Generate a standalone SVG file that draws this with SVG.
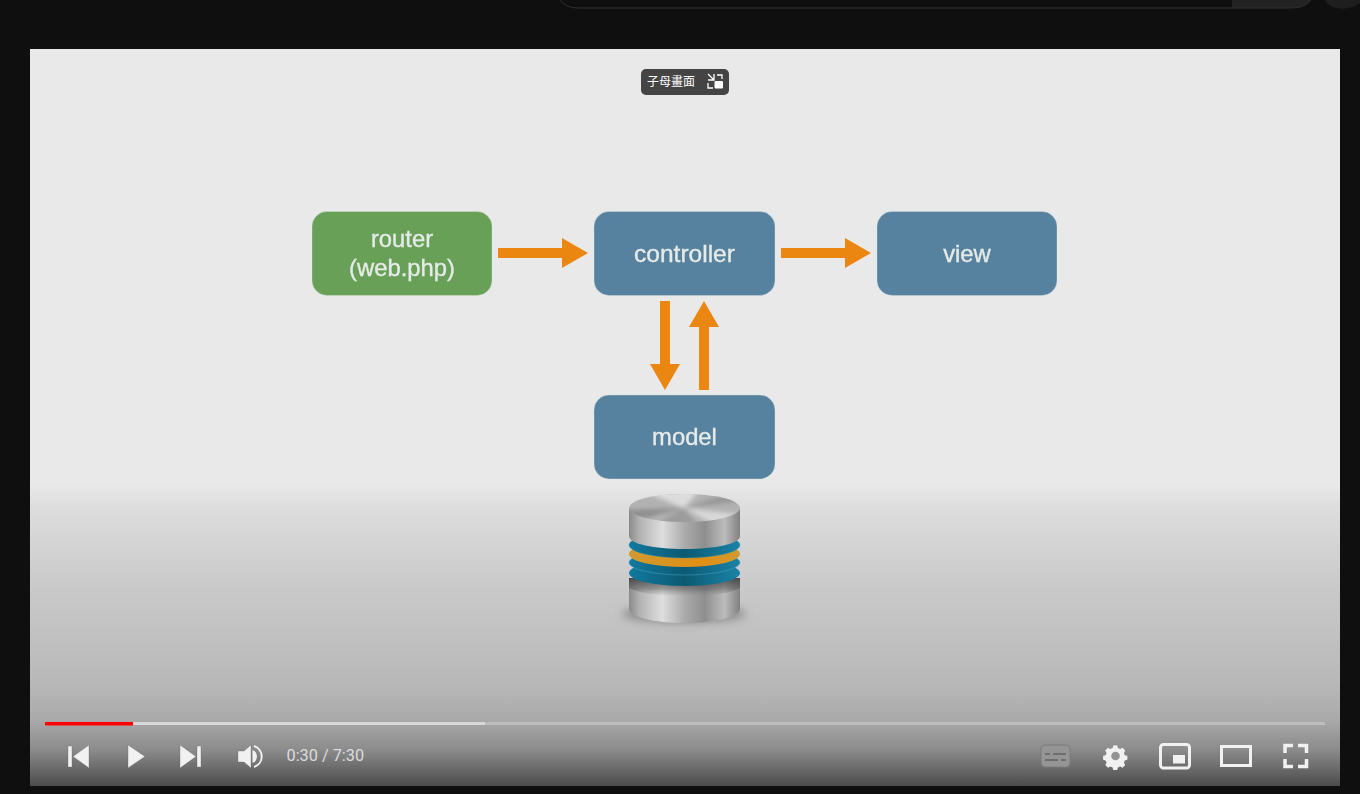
<svg xmlns="http://www.w3.org/2000/svg" width="1360" height="794" viewBox="0 0 1360 794">
<style>
.node{stroke:#dfe6e4;stroke-opacity:.35;stroke-width:1}
.blue{fill:#57829f}
.green{fill:#68a057}
.lbl{font-family:"Liberation Sans",Arial,sans-serif;font-size:23.800px;fill:#e6ebe8;stroke:#e6ebe8;stroke-width:.35;text-anchor:middle}
.conn{stroke:#eb8611;stroke-width:10;fill:none}
.ico{fill:#f1f1f1;stroke:#6a6a6a;stroke-opacity:.35;stroke-width:1}
.ln{fill:none;stroke:#f1f1f1;stroke-width:3}
</style>
<defs>
<marker id="ah" markerUnits="userSpaceOnUse" markerWidth="26" markerHeight="30" refX="0" refY="15" orient="auto"><path d="M0 0L26 15L0 30Z" fill="#eb8611"/></marker>
<linearGradient id="bg" x1="0" y1="0" x2="0" y2="1"><stop offset="0" stop-color="#e9e9e9"/><stop offset=".59" stop-color="#e9e9e9"/><stop offset=".62" stop-color="#dedede"/><stop offset=".72" stop-color="#cbcbcb"/><stop offset=".86" stop-color="#b8b8b8"/><stop offset=".91" stop-color="#aaaaaa"/><stop offset=".95" stop-color="#8c8c8c"/><stop offset="1" stop-color="#4c4c4c"/></linearGradient>
<linearGradient id="metal" x1="0" y1="0" x2="1" y2="0"><stop offset="0" stop-color="#8a8a8a"/><stop offset=".1" stop-color="#b4b4b4"/><stop offset=".3" stop-color="#dedede"/><stop offset=".5" stop-color="#ababab"/><stop offset=".68" stop-color="#8e8e8e"/><stop offset=".86" stop-color="#bcbcbc"/><stop offset="1" stop-color="#808080"/></linearGradient>
<linearGradient id="teal" x1="0" y1="0" x2="1" y2="0"><stop offset="0" stop-color="#1279a0"/><stop offset=".5" stop-color="#0c5a72"/><stop offset="1" stop-color="#1a83a6"/></linearGradient>
<linearGradient id="amber" x1="0" y1="0" x2="1" y2="0"><stop offset="0" stop-color="#d09a30"/><stop offset=".65" stop-color="#e08e14"/><stop offset="1" stop-color="#d09a30"/></linearGradient>
<linearGradient id="lowshade" x1="0" y1="0" x2="0" y2="1"><stop offset="0" stop-color="#3c3c3c" stop-opacity=".85"/><stop offset=".6" stop-color="#555" stop-opacity=".5"/><stop offset="1" stop-color="#777" stop-opacity="0"/></linearGradient>
<filter id="blur" x="-30%" y="-100%" width="160%" height="300%"><feGaussianBlur stdDeviation="4"/></filter>
<filter id="soft" x="-10%" y="-10%" width="120%" height="120%"><feGaussianBlur stdDeviation="2"/></filter>
<filter id="tiny" x="-5%" y="-5%" width="110%" height="110%"><feGaussianBlur stdDeviation=".5"/></filter>
<clipPath id="capclip"><ellipse cx="684.500" cy="508" rx="55.500" ry="14"/></clipPath>
</defs>
<rect width="1360" height="794" fill="#0f0f0f"/>
<path d="M1232 0V8H1290C1300 8 1306 6 1311 0Z" fill="#222"/>
<path d="M560 0C565 6 570 8 580 8H1290C1300 8 1306 6 1311 0" fill="none" stroke="#303030"/>
<path d="M1325 0C1330 11 1350 11 1360 3V0Z" fill="#1e1e1e"/>
<rect x="30" y="49" width="1310" height="737" fill="url(#bg)"/>
<g id="pip-badge">
<rect x="641" y="69" width="88" height="26" rx="5" fill="#444"/>
<text x="671" y="86" font-family="'Noto Sans CJK TC','Noto Sans CJK SC',sans-serif" font-size="12" fill="#fff" text-anchor="middle">子母畫面</text>
<path d="M708 74L714 80M708 80H714V74M717 75H722V79M708 83V88H713" fill="none" stroke="#fff" stroke-width="1.300"/>
<rect x="714.500" y="81" width="8.500" height="7.500" rx="1" fill="#fff"/>
</g>
<g id="connectors">
<path class="conn" marker-end="url(#ah)" d="M498 253H562"/>
<path class="conn" marker-end="url(#ah)" d="M781 253H845"/>
<path class="conn" marker-end="url(#ah)" d="M665 301V364"/>
<path class="conn" marker-end="url(#ah)" d="M704 390V327"/>
</g>
<g id="router"><rect class="node green" x="312" y="211.500" width="180" height="84" rx="15"/><text class="lbl" x="402" y="247" filter="url(#tiny)">router</text><text class="lbl" x="402" y="275.500" filter="url(#tiny)">(web.php)</text></g>
<g id="controller"><rect class="node blue" x="594" y="211.500" width="181" height="84" rx="15"/><text class="lbl" x="684.500" y="262" filter="url(#tiny)" style="font-size:24.500px">controller</text></g>
<g id="view"><rect class="node blue" x="877" y="211.500" width="180" height="84" rx="15"/><text class="lbl" x="967" y="262" filter="url(#tiny)">view</text></g>
<g id="model"><rect class="node blue" x="594" y="395" width="181" height="84" rx="15"/><text class="lbl" x="684.500" y="445" filter="url(#tiny)">model</text></g>
<g id="database">
<ellipse cx="684" cy="614" rx="62" ry="9" fill="#555" opacity=".5" filter="url(#blur)"/>
<path d="M629 578V609C629 617 654 623 684.500 623S740 617 740 609V578Z" fill="url(#metal)"/>
<path d="M629 578V588C640 594 660 596 684.500 596S730 594 740 588V578Z" fill="url(#lowshade)"/>
<ellipse cx="684.500" cy="573" rx="55.500" ry="13" fill="url(#teal)"/>
<ellipse cx="684.500" cy="562.500" rx="55.500" ry="12.500" fill="url(#teal)" stroke="#4aa7c0" stroke-opacity=".5"/>
<ellipse cx="684.500" cy="554" rx="55.500" ry="13" fill="url(#amber)"/>
<ellipse cx="684.500" cy="545" rx="55.500" ry="13" fill="url(#teal)" stroke="#2f93ad" stroke-opacity=".4"/>
<path d="M629 508V536C629 544 654 549 684.500 549S740 544 740 536V508Z" fill="url(#metal)"/>
<ellipse cx="684.500" cy="508" rx="55.500" ry="14" fill="#b2b2b2"/>
<g clip-path="url(#capclip)"><g filter="url(#soft)">
<path d="M684 508L640 490H700Z" fill="#dcdcdc"/>
<path d="M684 508L622 510L630 522Z" fill="#8f8f8f"/>
<path d="M684 508L720 528H750L745 515Z" fill="#d8d8d8"/>
<path d="M684 508L740 490L750 500Z" fill="#969696"/>
<path d="M684 508L650 528H700Z" fill="#9c9c9c"/>
</g></g>
</g>
<g id="player-controls">
<rect x="45" y="722" width="1280" height="3" fill="#bdbdbd"/>
<rect x="45" y="722" width="440" height="3" fill="#d8d8d8"/>
<rect x="45" y="722" width="88" height="3.500" fill="#f00"/>
<path class="ico" d="M68 746H72V767H68ZM89 745V768L73 756.500Z"/>
<path class="ico" d="M128 745L145 756.500L128 768Z"/>
<path class="ico" d="M180 745L196 756.500L180 768ZM197 746H201V767H197Z"/>
<path class="ico" d="M238 751H244L251 745V768L244 762H238Z"/>
<path d="M252.500 750A7 7 0 0 1 252.500 763Z" fill="#f1f1f1"/>
<path d="M254 746A11 11 0 0 1 254 767" fill="none" stroke="#f1f1f1" stroke-width="2"/>
<text x="286.500" y="761" font-family="Roboto,'Liberation Sans',sans-serif" font-size="16.300" fill="#dcdcdc">0:30 / 7:30</text>
<rect x="1041" y="745" width="29" height="22" rx="4" fill="#959595" stroke="#7b7b7b"/>
<path d="M1045 754H1050M1053 754H1066M1045 760H1058M1061 760H1066" stroke="#6e6e6e" stroke-width="2"/>
<g transform="translate(1115.500 756) scale(.86) translate(-1115.500 -756)">
<path d="M1115 743.500l2.500.3.800 3 2.600 1.100 2.700-1.500 3.200 3.300-1.500 2.700 1 2.600 3 .8v4.600l-3 .8-1 2.600 1.500 2.700-3.200 3.300-2.700-1.500-2.600 1.100-.8 3h-4.600l-.8-3-2.600-1.100-2.700 1.500-3.200-3.300 1.500-2.700-1-2.600-3-.8v-4.600l3-.8 1-2.600-1.500-2.700 3.200-3.300 2.700 1.500 2.600-1.100.8-3z" fill="#f1f1f1"/>
<circle cx="1115.500" cy="756" r="5" fill="#939393"/>
</g>
<rect x="1160.500" y="744.500" width="29" height="23.500" rx="3" class="ln"/>
<rect x="1173" y="755" width="12" height="8.500" fill="#f1f1f1"/>
<rect x="1221.500" y="746.500" width="29" height="19" class="ln"/>
<path class="ln" style="stroke-width:3.500" d="M1285 753V745.500H1293M1298 745.500H1306.500V753M1285 759V766.500H1293M1298 766.500H1306.500V759"/>
</g>
</svg>
